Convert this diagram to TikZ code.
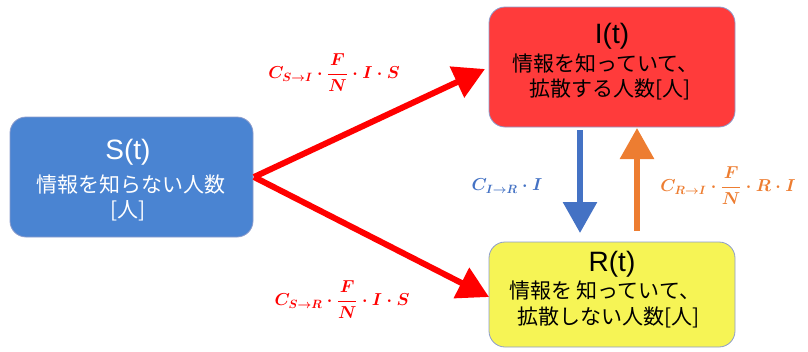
\documentclass[tikz,border=0pt]{standalone}
\usepackage{amsmath}
\usepackage{fontspec}
\setmainfont{Liberation Sans}
\newfontfamily\jp{Noto Sans CJK JP}
\usetikzlibrary{arrows.meta}
\definecolor{sblue}{HTML}{4A84D2}
\definecolor{ired}{HTML}{FF3B3B}
\definecolor{ryel}{HTML}{F6F455}
\definecolor{bord}{HTML}{8C9CCC}
\definecolor{arred}{HTML}{FF0000}
\definecolor{arblue}{HTML}{4472C4}
\definecolor{arorange}{HTML}{ED7D31}
\tikzset{
  box/.style={draw=bord, line width=0.8pt, rounded corners=16pt, align=center, inner sep=0pt},
  title/.style={font=\fontsize{28}{30}\selectfont},
  jtext/.style={font=\fontsize{21}{24}\selectfont\jp, inner sep=0pt},
  flow/.style={line width=6pt, -{Triangle[length=31pt,width=33pt]}},
  rate/.style={font=\fontsize{18}{21}\selectfont\boldmath},
}
\begin{document}
\begin{tikzpicture}[x=1pt,y=-1pt]
\useasboundingbox (0,0) rectangle (808,351);
% boxes
\draw[box, fill=sblue] (10,117) rectangle (253,237);
\draw[box, fill=ired] (489,7) rectangle (735,127);
\draw[box, fill=ryel] (489,242) rectangle (735,347);
\node[title, text=white] (St) at (128,152) {S(t)};
\node[jtext, text=white] (S1) at (131,185) {情報を知らない人数};
\node[jtext, text=white] (S2) at (128,211) {[人]};
\node[title] (It) at (612,36) {I(t)};
\node[jtext, anchor=west] (I1) at (512,64) {情報を知っていて、};
\node[jtext, anchor=west] (I2) at (529,89) {拡散する人数[人]};
\node[title] (Rt) at (612,264) {R(t)};
\node[jtext, anchor=west] (R1) at (509,291) {情報を 知っていて、};
\node[jtext, anchor=west] (R2) at (517,317) {拡散しない人数[人]};
% anchor coordinates for connectors
\coordinate (sR) at (254,177);
\coordinate (iL) at (485,69);
\coordinate (rL) at (489,297);
\coordinate (iBb) at (580,130);
\coordinate (rTb) at (580,233);
\coordinate (rTo) at (637,231);
\coordinate (iBo) at (637,128);
% arrows
\draw[flow, arred] (sR) -- (iL);
\draw[flow, arred] (sR) -- (rL);
\draw[flow, arblue] (iBb) -- (rTb);
\draw[flow, arorange] (rTo) -- (iBo);
% labels
\node[rate, text=arred] (l1) at (334,73) {$C_{S\to I}\cdot\dfrac{F}{N}\cdot I\cdot S$};
\node[rate, text=arred] (l2) at (342,300) {$C_{S\to R}\cdot\dfrac{F}{N}\cdot I\cdot S$};
\node[rate, text=arblue] (l3) at (507,186) {$C_{I\to R}\cdot I$};
\node[rate, text=arorange] (l4) at (728,186) {$C_{R\to I}\cdot\dfrac{F}{N}\cdot R\cdot I$};
\end{tikzpicture}
\end{document}
